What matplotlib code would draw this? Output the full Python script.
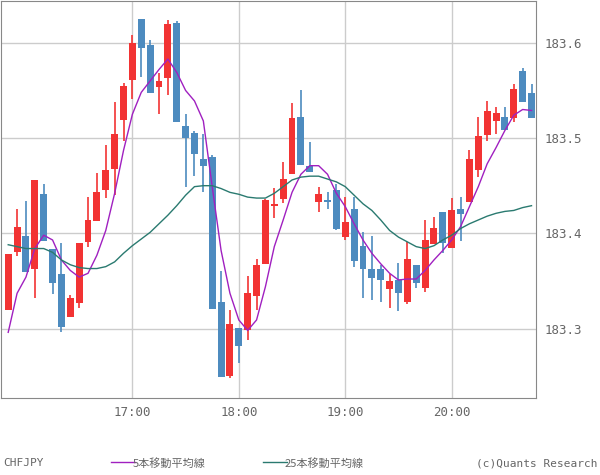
import numpy as np
import matplotlib
matplotlib.use("Agg")
import matplotlib.pyplot as plt

# 5-minute candles 15:50 .. 20:45 (CHFJPY)
opens = [183.319, 183.380, 183.397, 183.363, 183.441, 183.383, 183.357, 183.312, 183.327, 183.391,
         183.413, 183.446, 183.468, 183.519, 183.561, 183.625, 183.598, 183.554, 183.563, 183.621,
         183.513, 183.505, 183.478, 183.480, 183.328, 183.250, 183.301, 183.298, 183.334, 183.368,
         183.429, 183.436, 183.462, 183.522, 183.471, 183.433, 183.435, 183.445, 183.396, 183.425,
         183.387, 183.363, 183.362, 183.341, 183.351, 183.328, 183.367, 183.343, 183.389, 183.422,
         183.385, 183.425, 183.433, 183.467, 183.503, 183.518, 183.522, 183.521, 183.570, 183.547]
highs = [183.378, 183.425, 183.434, 183.456, 183.452, 183.383, 183.390, 183.335, 183.390, 183.438,
         183.463, 183.493, 183.538, 183.558, 183.608, 183.625, 183.603, 183.568, 183.624, 183.623,
         183.525, 183.507, 183.504, 183.482, 183.360, 183.319, 183.301, 183.355, 183.373, 183.436,
         183.448, 183.475, 183.537, 183.550, 183.496, 183.449, 183.443, 183.452, 183.438, 183.438,
         183.401, 183.397, 183.367, 183.357, 183.369, 183.391, 183.367, 183.414, 183.417, 183.422,
         183.437, 183.438, 183.487, 183.522, 183.539, 183.533, 183.533, 183.557, 183.574, 183.557]
lows = [183.319, 183.376, 183.359, 183.332, 183.392, 183.336, 183.296, 183.312, 183.322, 183.386,
        183.413, 183.437, 183.440, 183.497, 183.541, 183.564, 183.547, 183.525, 183.545, 183.517,
        183.449, 183.460, 183.443, 183.320, 183.249, 183.248, 183.264, 183.288, 183.319, 183.368,
        183.416, 183.432, 183.462, 183.472, 183.464, 183.422, 183.426, 183.403, 183.393, 183.365,
        183.332, 183.330, 183.328, 183.322, 183.318, 183.326, 183.343, 183.338, 183.389, 183.379,
        183.385, 183.392, 183.433, 183.459, 183.497, 183.504, 183.508, 183.517, 183.538, 183.521]
closes = [183.378, 183.407, 183.359, 183.456, 183.392, 183.348, 183.302, 183.332, 183.390, 183.414,
          183.443, 183.467, 183.504, 183.555, 183.600, 183.595, 183.547, 183.560, 183.620, 183.517,
          183.500, 183.483, 183.471, 183.320, 183.249, 183.305, 183.282, 183.337, 183.367, 183.435,
          183.431, 183.457, 183.521, 183.472, 183.464, 183.441, 183.433, 183.404, 183.412, 183.371,
          183.363, 183.353, 183.351, 183.350, 183.337, 183.373, 183.348, 183.393, 183.406, 183.390,
          183.424, 183.420, 183.478, 183.502, 183.528, 183.526, 183.508, 183.552, 183.538, 183.521]
ma5 = [183.296, 183.337, 183.354, 183.384, 183.398, 183.393, 183.372, 183.361, 183.354, 183.358,
       183.377, 183.403, 183.442, 183.487, 183.525, 183.548, 183.560, 183.572, 183.583, 183.569,
       183.550, 183.539, 183.518, 183.449, 183.382, 183.337, 183.309, 183.298, 183.309, 183.344,
       183.386, 183.414, 183.443, 183.462, 183.471, 183.471, 183.462, 183.442, 183.428, 183.410,
       183.393, 183.379, 183.368, 183.358, 183.351, 183.352, 183.352, 183.361, 183.372, 183.382,
       183.393, 183.407, 183.428, 183.449, 183.473, 183.490, 183.508, 183.524, 183.530, 183.529]
ma25 = [183.388, 183.386, 183.384, 183.384, 183.384, 183.380, 183.372, 183.367, 183.364, 183.363,
        183.363, 183.365, 183.370, 183.379, 183.387, 183.394, 183.401, 183.410, 183.419, 183.429,
        183.440, 183.449, 183.450, 183.450, 183.447, 183.443, 183.441, 183.438, 183.437, 183.437,
        183.442, 183.449, 183.456, 183.459, 183.460, 183.460, 183.457, 183.454, 183.449, 183.440,
        183.431, 183.424, 183.414, 183.403, 183.396, 183.391, 183.386, 183.384, 183.387, 183.393,
        183.398, 183.405, 183.410, 183.414, 183.418, 183.421, 183.423, 183.424, 183.427, 183.429]
tick_idx = [14, 26, 38, 50]
tick_labels = ["17:00", "18:00", "19:00", "20:00"]

UP, DOWN = "#f23333", "#4d8bbf"
GREY = "#666666"
font = "DejaVu Sans Mono"

fig = plt.figure(figsize=(6, 4.75), dpi=100)
ax = fig.add_axes([0.002, 0.162, 0.892, 0.836])
x = np.arange(len(opens))
for i in x:
    o, h, l, c = opens[i], highs[i], lows[i], closes[i]
    col = UP if c >= o else DOWN
    ax.vlines(i, l, h, color=col, linewidth=1.2, zorder=2)
    ax.bar(i, max(abs(c - o), 0.0007), bottom=min(o, c), width=0.78, color=col, zorder=3)
ax.plot(x, ma5, color="#a020c0", linewidth=1.0, zorder=4)
ax.plot(x, ma25, color="#2a7a70", linewidth=1.0, zorder=4)

ax.set_xlim(-0.79, 59.55)
ax.set_ylim(183.227, 183.644)
ax.set_xticks(tick_idx)
ax.set_xticklabels(tick_labels)
ax.set_yticks([183.3, 183.4, 183.5, 183.6])
ax.set_yticklabels(["183.3", "183.4", "183.5", "183.6"])
ax.yaxis.tick_right()
ax.tick_params(length=0, labelsize=9, labelcolor=GREY, pad=6)
for lab in ax.get_xticklabels() + ax.get_yticklabels():
    lab.set_family(font)
ax.grid(True, color="#cccccc", linewidth=1.0, zorder=0)
ax.set_axisbelow(True)
for s in ax.spines.values():
    s.set_color("#888888")

# bottom legend row
jp = ["Noto Sans CJK JP", "DejaVu Sans"]
fig.text(0.005, 0.018, "CHFJPY", fontsize=8, color=GREY, family=font)
fig.add_artist(plt.Line2D([0.185, 0.225], [0.027, 0.027], color="#a020c0", lw=1))
fig.text(0.222, 0.016, "5本移動平均線", fontsize=8, color=GREY, family=jp)
fig.add_artist(plt.Line2D([0.438, 0.478], [0.027, 0.027], color="#2a7a70", lw=1))
fig.text(0.475, 0.016, "25本移動平均線", fontsize=8, color=GREY, family=jp)
fig.text(0.995, 0.018, "(c)Quants Research", fontsize=8, color=GREY, family=font, ha="right")

fig.savefig("out.png", dpi=100)
